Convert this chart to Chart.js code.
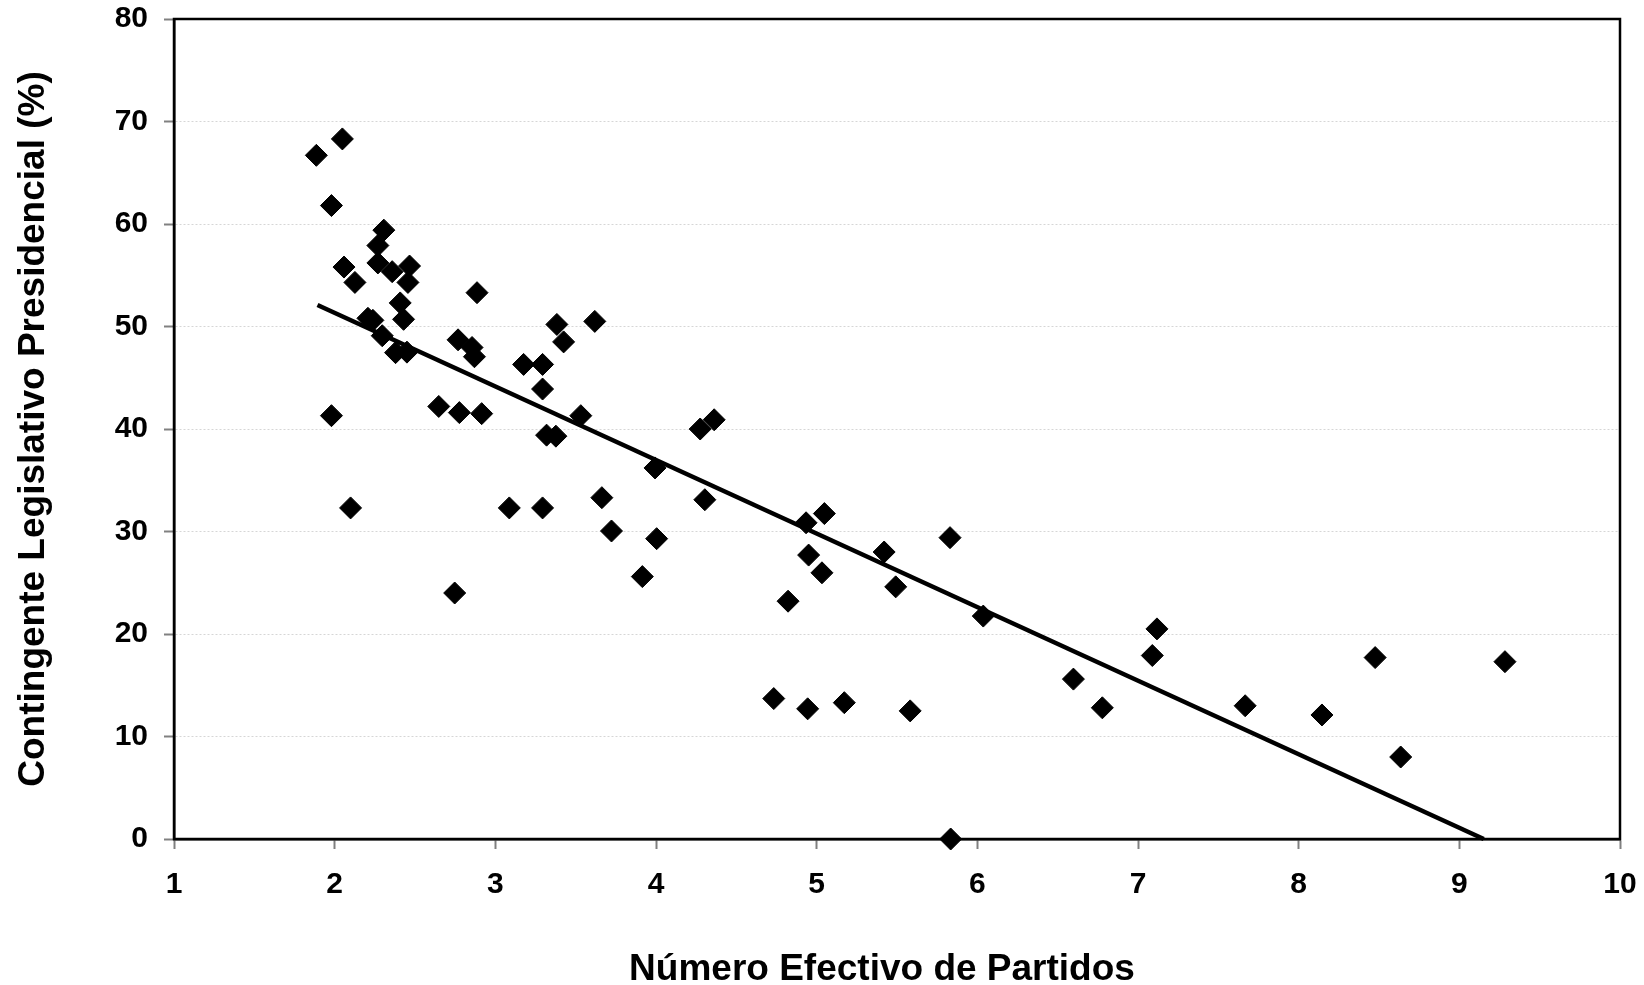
<!DOCTYPE html>
<html>
<head>
<meta charset="utf-8">
<script src="https://cdn.jsdelivr.net/npm/chart.js@4.4.1/dist/chart.umd.min.js"></script>
<style>
  html, body { margin: 0; padding: 0; background: #ffffff; }
  #wrap { width: 1644px; height: 985px; position: relative; }
</style>
</head>
<body>
<div id="wrap"><canvas id="c"></canvas></div>
<script>
// Número Efectivo de Partidos (x) and Contingente Legislativo Presidencial % (y)
const nepValues = [
  1.886, 2.048, 1.98, 2.306, 2.269, 2.058, 2.269, 2.358, 2.466, 2.456,
  2.126, 2.886, 2.408, 2.429, 2.207, 2.238, 2.296, 2.379, 2.45, 2.768,
  2.855, 2.87, 3.383, 3.619, 3.425, 3.176, 3.294, 3.294, 2.648, 2.776,
  2.915, 1.98, 3.532, 3.319, 3.377, 3.087, 3.294, 3.663, 3.723, 4.004,
  3.915, 3.994, 4.275, 4.362, 4.304, 4.934, 5.048, 4.95, 5.033, 5.42,
  4.822, 5.492, 5.83, 6.037, 4.733, 4.944, 5.172, 5.582, 5.834, 6.598,
  6.778, 7.118, 7.089, 7.667, 8.145, 8.476, 8.635, 9.284, 2.099, 2.747
];
const contingentValues = [
  66.7, 68.3, 61.8, 59.4, 57.9, 55.8, 56.2, 55.35, 55.9, 54.3,
  54.3, 53.3, 52.3, 50.7, 50.8, 50.6, 49.1, 47.45, 47.5, 48.7,
  47.95, 47.05, 50.2, 50.5, 48.5, 46.3, 46.3, 43.9, 42.2, 41.6,
  41.5, 41.3, 41.3, 39.4, 39.3, 32.3, 32.3, 33.3, 30.05, 29.3,
  25.6, 36.2, 40.0, 40.9, 33.1, 30.85, 31.75, 27.7, 25.97, 28.0,
  23.2, 24.6, 29.4, 21.75, 13.7, 12.7, 13.3, 12.5, 0.0, 15.6,
  12.8, 20.5, 17.9, 13.0, 12.1, 17.7, 8.0, 17.3, 32.3, 24.0
];
// Linear trend line endpoints (as drawn in the original)
const trendX = [1.893, 9.152];
const trendY = [52.1, 0.0];

const xTicks = [1, 2, 3, 4, 5, 6, 7, 8, 9, 10];
const yTicks = [0, 10, 20, 30, 40, 50, 60, 70, 80];

const xTitle = 'Número Efectivo de Partidos';
const yTitle = 'Contingente Legislativo Presidencial (%)';

const scatterData = nepValues.map((x, i) => ({ x: x, y: contingentValues[i] }));
const trendData = trendX.map((x, i) => ({ x: x, y: trendY[i] }));

const FONT = "'Liberation Sans', Arial, sans-serif";

const framePlugin = {
  id: 'frame',
  beforeDatasetsDraw(chart) {
    const a = chart.chartArea;
    const ctx = chart.ctx;
    ctx.save();
    ctx.strokeStyle = '#000000';
    ctx.lineWidth = 2.5;
    ctx.strokeRect(a.left, a.top, a.right - a.left, a.bottom - a.top);
    ctx.restore();
  }
};

// x-axis title, centred slightly left of the plot centre as in the original
const xTitlePlugin = {
  id: 'xTitle',
  afterDraw(chart) {
    const a = chart.chartArea;
    const ctx = chart.ctx;
    ctx.save();
    ctx.fillStyle = '#000000';
    ctx.font = 'bold 37px ' + FONT;
    ctx.textAlign = 'center';
    ctx.textBaseline = 'middle';
    ctx.fillText(xTitle, (a.left + a.right) / 2 - 15, a.bottom + 131);
    ctx.restore();
  }
};

new Chart(document.getElementById('c'), {
  type: 'scatter',
  data: {
    datasets: [
      {
        type: 'line',
        label: 'Tendencia',
        data: trendData,
        borderColor: '#000000',
        borderWidth: 4.5,
        pointRadius: 0,
        fill: false,
        tension: 0,
        clip: false
      },
      {
        label: 'Casos',
        data: scatterData,
        pointStyle: 'rectRot',
        pointRadius: 11,
        pointHoverRadius: 11,
        backgroundColor: '#000000',
        borderColor: '#000000',
        borderWidth: 1,
        clip: false
      }
    ]
  },
  options: {
    responsive: true,
    maintainAspectRatio: false,
    animation: false,
    devicePixelRatio: 1,
    layout: { padding: { left: 0, top: 19, right: 24, bottom: 0 } },
    plugins: {
      legend: { display: false },
      tooltip: { enabled: false }
    },
    scales: {
      x: {
        type: 'linear',
        min: 1,
        max: 10,
        afterBuildTicks(scale) { scale.ticks = xTicks.map(v => ({ value: v })); },
        afterFit(scale) {
          scale.height = 146;
          scale.paddingLeft = 0;
          scale.paddingRight = 0;
        },
        ticks: {
          color: '#000000',
          padding: 18,
          font: { family: FONT, size: 30, weight: 'bold' }
        },
        grid: {
          drawOnChartArea: false,
          drawTicks: true,
          tickLength: 10,
          tickColor: '#808080',
          tickWidth: 2
        },
        border: { display: true, color: '#000000', width: 2.5 },
        title: { display: false, text: xTitle }
      },
      y: {
        type: 'linear',
        min: 0,
        max: 80,
        afterBuildTicks(scale) { scale.ticks = yTicks.map(v => ({ value: v })); },
        afterFit(scale) {
          scale.width = 174;
          scale.paddingTop = 0;
          scale.paddingBottom = 0;
        },
        ticks: {
          color: '#000000',
          padding: 16,
          font: { family: FONT, size: 30, weight: 'bold' }
        },
        grid: {
          drawOnChartArea: true,
          drawTicks: true,
          color: '#d6d6d6',
          lineWidth: 1,
          tickLength: 10,
          tickColor: '#808080',
          tickWidth: 2
        },
        border: { display: true, color: '#000000', width: 2.5, dash: [2, 2] },
        title: {
          display: true,
          text: yTitle,
          color: '#000000',
          font: { family: FONT, size: 37, weight: 'bold', lineHeight: 1 },
          padding: { top: 15, bottom: 0 }
        }
      }
    }
  },
  plugins: [framePlugin, xTitlePlugin]
});
</script>
</body>
</html>
